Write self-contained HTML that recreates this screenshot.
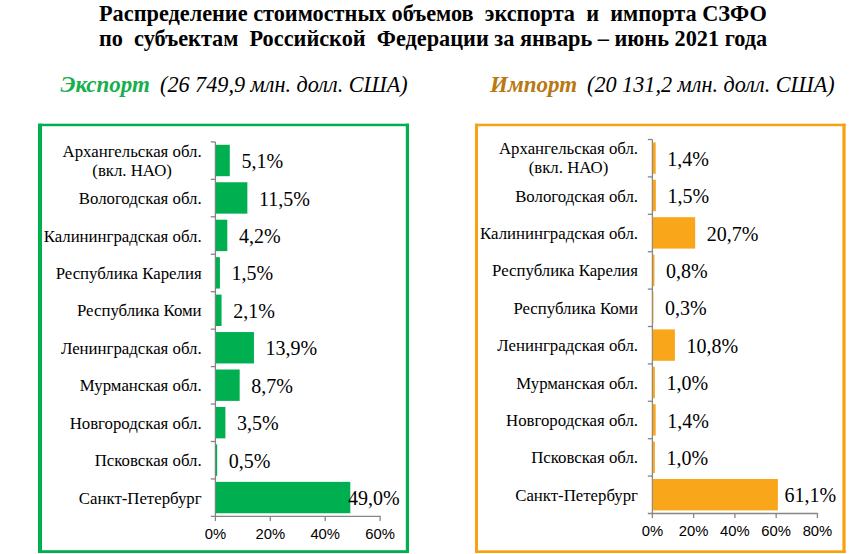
<!DOCTYPE html>
<html><head><meta charset="utf-8"><style>
html,body{margin:0;padding:0;background:#fff;width:866px;height:554px;overflow:hidden;position:relative}
div{position:absolute}
svg{position:absolute;left:0;top:0}
.t{font:bold 24px "Liberation Serif",serif;white-space:pre;color:#000;line-height:1;transform-origin:0 0;transform:scale(0.9285,1.0)}
.sub{font:italic 22px "Liberation Serif",serif;white-space:pre;color:#000;line-height:1}
.sub b{font-weight:bold}
.val{font:20px "Liberation Serif",serif;white-space:pre;line-height:24px;color:#000}
.lab{font:16.8px "Liberation Serif",serif;white-space:pre;line-height:19px;text-align:center;transform:translateY(-50%);color:#000}
.xl{font:14.8px "Liberation Sans",sans-serif;transform:translateX(-50%);line-height:16px;color:#000}
</style></head><body>
<svg width="866" height="554" viewBox="0 0 866 554">
<rect x="38.0" y="123.7" width="371.00" height="2.50" fill="#00B050"/>
<rect x="38.0" y="550.2" width="371.00" height="2.80" fill="#00B050"/>
<rect x="38.0" y="123.7" width="4.00" height="429.30" fill="#00B050"/>
<rect x="405.8" y="123.7" width="3.20" height="429.30" fill="#00B050"/>
<line x1="215.4" y1="141.9" x2="215.4" y2="516.4" stroke="#868686" stroke-width="1.3"/>
<line x1="210.80" y1="141.90" x2="215.40" y2="141.90" stroke="#868686" stroke-width="1.3"/>
<line x1="210.80" y1="179.35" x2="215.40" y2="179.35" stroke="#868686" stroke-width="1.3"/>
<line x1="210.80" y1="216.80" x2="215.40" y2="216.80" stroke="#868686" stroke-width="1.3"/>
<line x1="210.80" y1="254.25" x2="215.40" y2="254.25" stroke="#868686" stroke-width="1.3"/>
<line x1="210.80" y1="291.70" x2="215.40" y2="291.70" stroke="#868686" stroke-width="1.3"/>
<line x1="210.80" y1="329.15" x2="215.40" y2="329.15" stroke="#868686" stroke-width="1.3"/>
<line x1="210.80" y1="366.60" x2="215.40" y2="366.60" stroke="#868686" stroke-width="1.3"/>
<line x1="210.80" y1="404.05" x2="215.40" y2="404.05" stroke="#868686" stroke-width="1.3"/>
<line x1="210.80" y1="441.50" x2="215.40" y2="441.50" stroke="#868686" stroke-width="1.3"/>
<line x1="210.80" y1="478.95" x2="215.40" y2="478.95" stroke="#868686" stroke-width="1.3"/>
<line x1="210.80" y1="516.40" x2="380.70" y2="516.40" stroke="#868686" stroke-width="1.3"/>
<line x1="215.40" y1="516.40" x2="215.40" y2="521.00" stroke="#868686" stroke-width="1.3"/>
<line x1="270.30" y1="516.40" x2="270.30" y2="521.00" stroke="#868686" stroke-width="1.3"/>
<line x1="325.20" y1="516.40" x2="325.20" y2="521.00" stroke="#868686" stroke-width="1.3"/>
<line x1="380.10" y1="516.40" x2="380.10" y2="521.00" stroke="#868686" stroke-width="1.3"/>
<rect x="215.80" y="144.80" width="14.00" height="31.4" fill="#00B050"/>
<rect x="215.80" y="182.25" width="31.57" height="31.4" fill="#00B050"/>
<rect x="215.80" y="219.70" width="11.53" height="31.4" fill="#00B050"/>
<rect x="215.80" y="257.15" width="4.12" height="31.4" fill="#00B050"/>
<rect x="215.80" y="294.60" width="5.76" height="31.4" fill="#00B050"/>
<rect x="215.80" y="332.05" width="38.16" height="31.4" fill="#00B050"/>
<rect x="215.80" y="369.50" width="23.88" height="31.4" fill="#00B050"/>
<rect x="215.80" y="406.95" width="9.61" height="31.4" fill="#00B050"/>
<rect x="215.80" y="444.40" width="1.37" height="31.4" fill="#00B050"/>
<rect x="215.80" y="481.85" width="134.50" height="31.4" fill="#00B050"/>
<rect x="475.0" y="123.7" width="370.60" height="2.50" fill="#F9A10E"/>
<rect x="475.0" y="550.3" width="370.60" height="2.70" fill="#F9A10E"/>
<rect x="475.0" y="123.7" width="3.00" height="429.30" fill="#F9A10E"/>
<rect x="842.4" y="123.7" width="3.20" height="429.30" fill="#F9A10E"/>
<line x1="652.4" y1="139.5" x2="652.4" y2="513.5" stroke="#868686" stroke-width="1.3"/>
<line x1="647.80" y1="139.50" x2="652.40" y2="139.50" stroke="#868686" stroke-width="1.3"/>
<line x1="647.80" y1="176.90" x2="652.40" y2="176.90" stroke="#868686" stroke-width="1.3"/>
<line x1="647.80" y1="214.30" x2="652.40" y2="214.30" stroke="#868686" stroke-width="1.3"/>
<line x1="647.80" y1="251.70" x2="652.40" y2="251.70" stroke="#868686" stroke-width="1.3"/>
<line x1="647.80" y1="289.10" x2="652.40" y2="289.10" stroke="#868686" stroke-width="1.3"/>
<line x1="647.80" y1="326.50" x2="652.40" y2="326.50" stroke="#868686" stroke-width="1.3"/>
<line x1="647.80" y1="363.90" x2="652.40" y2="363.90" stroke="#868686" stroke-width="1.3"/>
<line x1="647.80" y1="401.30" x2="652.40" y2="401.30" stroke="#868686" stroke-width="1.3"/>
<line x1="647.80" y1="438.70" x2="652.40" y2="438.70" stroke="#868686" stroke-width="1.3"/>
<line x1="647.80" y1="476.10" x2="652.40" y2="476.10" stroke="#868686" stroke-width="1.3"/>
<line x1="647.80" y1="513.50" x2="818.04" y2="513.50" stroke="#868686" stroke-width="1.3"/>
<line x1="652.40" y1="513.50" x2="652.40" y2="518.10" stroke="#868686" stroke-width="1.3"/>
<line x1="693.66" y1="513.50" x2="693.66" y2="518.10" stroke="#868686" stroke-width="1.3"/>
<line x1="734.92" y1="513.50" x2="734.92" y2="518.10" stroke="#868686" stroke-width="1.3"/>
<line x1="776.18" y1="513.50" x2="776.18" y2="518.10" stroke="#868686" stroke-width="1.3"/>
<line x1="817.44" y1="513.50" x2="817.44" y2="518.10" stroke="#868686" stroke-width="1.3"/>
<rect x="652.80" y="142.40" width="2.87" height="31.4" fill="#F9A61A"/>
<rect x="652.80" y="179.80" width="3.07" height="31.4" fill="#F9A61A"/>
<rect x="652.80" y="217.20" width="42.37" height="31.4" fill="#F9A61A"/>
<rect x="652.80" y="254.60" width="1.64" height="31.4" fill="#F9A61A"/>
<rect x="652.80" y="292.00" width="0.61" height="31.4" fill="#F9A61A"/>
<rect x="652.80" y="329.40" width="22.11" height="31.4" fill="#F9A61A"/>
<rect x="652.80" y="366.80" width="2.05" height="31.4" fill="#F9A61A"/>
<rect x="652.80" y="404.20" width="2.87" height="31.4" fill="#F9A61A"/>
<rect x="652.80" y="441.60" width="2.05" height="31.4" fill="#F9A61A"/>
<rect x="652.80" y="479.00" width="125.07" height="31.4" fill="#F9A61A"/>
</svg>
<div class="t" style="left:99px;top:1px">Распределение стоимостных объемов  экспорта  и  импорта СЗФО</div>
<div class="t" style="left:98.5px;top:26px">по  субъектам  Российской  Федерации за январь – июнь 2021 года</div>
<div class="sub" style="left:60.5px;top:73px;font-size:23px"><b style="color:#18AF4E">Экспорт</b></div>
<div class="sub" style="left:160px;top:74.4px;font-size:22.2px">(26 749,9 млн. долл. США)</div>
<div class="sub" style="left:490px;top:73px;font-size:23px"><b style="color:#BA7812">Импорт</b></div>
<div class="sub" style="left:587px;top:74.4px;font-size:22.2px">(20 131,2 млн. долл. США)</div>
<div class="val" style="left:241.40px;top:149.12px">5,1%</div>
<div class="lab" style="right:664.40px;top:160.62px">Архангельская обл.<br>(вкл. НАО)</div>
<div class="val" style="left:258.97px;top:186.58px">11,5%</div>
<div class="lab" style="right:664.40px;top:198.08px">Вологодская обл.</div>
<div class="val" style="left:238.93px;top:224.03px">4,2%</div>
<div class="lab" style="right:664.40px;top:235.53px">Калининградская обл.</div>
<div class="val" style="left:231.52px;top:261.48px">1,5%</div>
<div class="lab" style="right:664.40px;top:272.98px">Республика Карелия</div>
<div class="val" style="left:233.16px;top:298.93px">2,1%</div>
<div class="lab" style="right:664.40px;top:310.43px">Республика Коми</div>
<div class="val" style="left:265.56px;top:336.38px">13,9%</div>
<div class="lab" style="right:664.40px;top:347.88px">Ленинградская обл.</div>
<div class="val" style="left:251.28px;top:373.83px">8,7%</div>
<div class="lab" style="right:664.40px;top:385.33px">Мурманская обл.</div>
<div class="val" style="left:237.01px;top:411.27px">3,5%</div>
<div class="lab" style="right:664.40px;top:422.77px">Новгородская обл.</div>
<div class="val" style="left:228.77px;top:448.73px">0,5%</div>
<div class="lab" style="right:664.40px;top:460.23px">Псковская обл.</div>
<div class="val" style="left:348.00px;top:486.18px">49,0%</div>
<div class="lab" style="right:664.40px;top:497.68px">Санкт-Петербург</div>
<div class="xl" style="left:215.40px;top:525.60px">0%</div>
<div class="xl" style="left:270.30px;top:525.60px">20%</div>
<div class="xl" style="left:325.20px;top:525.60px">40%</div>
<div class="xl" style="left:380.10px;top:525.60px">60%</div>
<div class="val" style="left:667.27px;top:146.70px">1,4%</div>
<div class="lab" style="right:228.00px;top:158.20px">Архангельская обл.<br>(вкл. НАО)</div>
<div class="val" style="left:667.47px;top:184.10px">1,5%</div>
<div class="lab" style="right:228.00px;top:195.60px">Вологодская обл.</div>
<div class="val" style="left:706.77px;top:221.50px">20,7%</div>
<div class="lab" style="right:228.00px;top:233.00px">Калининградская обл.</div>
<div class="val" style="left:666.04px;top:258.90px">0,8%</div>
<div class="lab" style="right:228.00px;top:270.40px">Республика Карелия</div>
<div class="val" style="left:665.01px;top:296.30px">0,3%</div>
<div class="lab" style="right:228.00px;top:307.80px">Республика Коми</div>
<div class="val" style="left:686.51px;top:333.70px">10,8%</div>
<div class="lab" style="right:228.00px;top:345.20px">Ленинградская обл.</div>
<div class="val" style="left:666.45px;top:371.10px">1,0%</div>
<div class="lab" style="right:228.00px;top:382.60px">Мурманская обл.</div>
<div class="val" style="left:667.27px;top:408.50px">1,4%</div>
<div class="lab" style="right:228.00px;top:420.00px">Новгородская обл.</div>
<div class="val" style="left:666.45px;top:445.90px">1,0%</div>
<div class="lab" style="right:228.00px;top:457.40px">Псковская обл.</div>
<div class="val" style="left:784.50px;top:483.30px">61,1%</div>
<div class="lab" style="right:228.00px;top:494.80px">Санкт-Петербург</div>
<div class="xl" style="left:652.40px;top:522.70px">0%</div>
<div class="xl" style="left:693.66px;top:522.70px">20%</div>
<div class="xl" style="left:734.92px;top:522.70px">40%</div>
<div class="xl" style="left:776.18px;top:522.70px">60%</div>
<div class="xl" style="left:817.44px;top:522.70px">80%</div>
</body></html>
